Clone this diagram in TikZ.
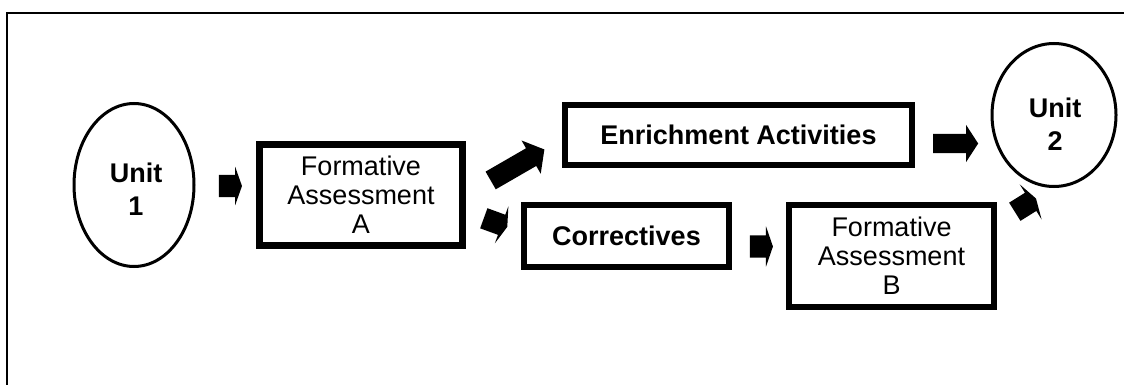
\documentclass[tikz,border=0pt]{standalone}
\usepackage{fontspec}
\setmainfont{Liberation Sans}
\usetikzlibrary{shapes.geometric,shapes.arrows}
\tikzset{
  unitnode/.style={ellipse, draw, line width=3pt, inner sep=0pt},
  unittext/.style={font=\bfseries\fontsize{27}{33}\selectfont, align=center, inner sep=0pt},
  boxnode/.style={rectangle, draw, line width=6.5pt, inner sep=0pt, align=center},
  regtext/.style={font=\fontsize{27}{29}\selectfont},
  boldtext/.style={font=\bfseries\fontsize{27}{30}\selectfont},
  blockarrow/.style={single arrow, fill=black, draw=none, inner xsep=0pt, single arrow head indent=0pt}
}
\begin{document}
\begin{tikzpicture}[x=1pt,y=-1pt]
\useasboundingbox (0,0) rectangle (1124,385);
% frame
\draw[line width=2pt] (7,385) -- (7,13) -- (1124,13);
% nodes
\node[unitnode, minimum width=120, minimum height=163] (u1) at (134,185) {};
\node[unittext] (u1t) at (136,189) {Unit\\1};
\node[boxnode, regtext, minimum width=203, minimum height=101] (fa) at (361,195) {Formative\\Assessment\\A};
\node[boxnode, boldtext, minimum width=347, minimum height=60] (en) at (738.5,135) {Enrichment Activities};
\node[boxnode, boldtext, minimum width=205, minimum height=62] (co) at (626.5,236) {Correctives};
\node[boxnode, regtext, minimum width=205, minimum height=102] (fb) at (891.5,256) {Formative\\Assessment\\B};
\node[unitnode, minimum width=124, minimum height=143] (u2) at (1054,115) {};
\node[unittext] (u2t) at (1055,124) {Unit\\2};
% block arrows
\node[blockarrow, inner ysep=11pt, minimum height=23, single arrow head extend=8pt, single arrow tip angle=141] (a1) at (228.5,186) {};
\node[blockarrow, rotate=30, inner ysep=10pt, minimum height=62, single arrow head extend=9pt, single arrow tip angle=103] (a2) at (514,167) {};
\node[blockarrow, rotate=-20, inner ysep=10.5pt, minimum height=25, single arrow head extend=9pt, single arrow tip angle=146] (a3) at (494,222) {};
\node[blockarrow, inner ysep=11pt, minimum height=23, single arrow head extend=9pt, single arrow tip angle=142] (a4) at (759.5,246.5) {};
\node[blockarrow, inner ysep=9.5pt, minimum height=45, single arrow head extend=9pt, single arrow tip angle=114] (a5) at (952.5,143.5) {};
\node[blockarrow, rotate=32, inner ysep=10.5pt, minimum height=25, single arrow head extend=10pt, single arrow tip angle=146] (a6) at (1024,206) {};
\end{tikzpicture}
\end{document}
